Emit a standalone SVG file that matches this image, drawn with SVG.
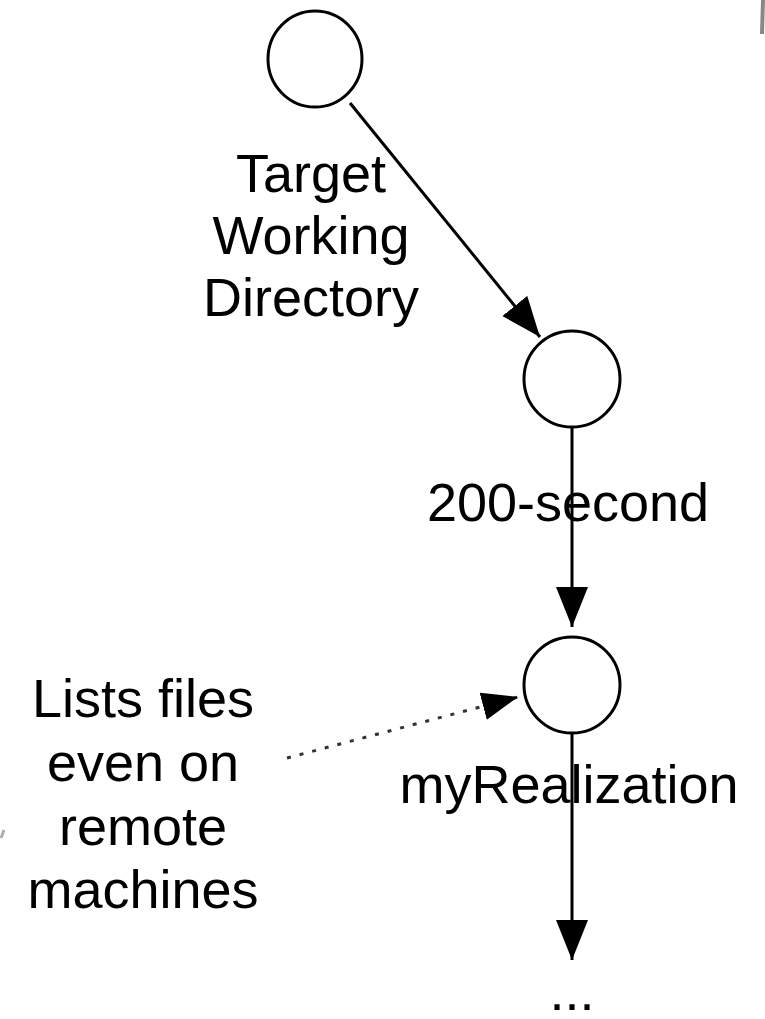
<svg xmlns="http://www.w3.org/2000/svg" width="765" height="1019" viewBox="0 0 765 1019">
<style>
.node{fill:#fff;stroke:#000;stroke-width:3}
.edge{fill:none;stroke:#000;stroke-width:3}
.dot{fill:none;stroke:#333;stroke-width:3;stroke-dasharray:4 9}
.lbl{font-family:"Liberation Sans",Arial,sans-serif;font-size:54px;fill:#000;text-anchor:middle}
</style>
<defs>
<marker id="ah" markerUnits="userSpaceOnUse" markerWidth="42" markerHeight="34" refX="40" refY="16" orient="auto">
<path d="M0,0 L40,16 L0,32 Z" fill="#000"/>
</marker>
<marker id="ah2" markerUnits="userSpaceOnUse" markerWidth="38" markerHeight="30" refX="36" refY="14" orient="auto">
<path d="M0,0 L36,14 L0,28 Z" fill="#000"/>
</marker>
</defs>
<g id="connectors">
<path class="edge" d="M350,103 L540,337" marker-end="url(#ah)"/>
<path class="edge" d="M572,428 L572,627" marker-end="url(#ah)"/>
<path class="dot" d="M287,758 L518,697" marker-end="url(#ah2)"/>
<path class="edge" d="M572,733 L572,960" marker-end="url(#ah)"/>
</g>
<g id="node1"><ellipse class="node" cx="315" cy="59" rx="47" ry="48"/></g>
<g id="node2"><ellipse class="node" cx="572" cy="379" rx="48" ry="48"/></g>
<g id="node3"><ellipse class="node" cx="572" cy="685" rx="48" ry="48"/></g>
<g id="labels">
<text class="lbl" x="311" y="192">Target</text>
<text class="lbl" x="311" y="254">Working</text>
<text class="lbl" x="311" y="316">Directory</text>
<text class="lbl" x="568" y="521">200-second</text>
<text class="lbl" x="569" y="803">myRealization</text>
<text class="lbl" x="143" y="717">Lists files</text>
<text class="lbl" x="143" y="781">even on</text>
<text class="lbl" x="143" y="845">remote</text>
<text class="lbl" x="143" y="908">machines</text>
<text class="lbl" x="572" y="1010">...</text>
</g>
<g id="fragments">
<path d="M763,0 L762,34" stroke="#555" stroke-width="4" fill="none" opacity="0.7"/>
<path d="M1,838 L4,830" stroke="#777" stroke-width="3" fill="none" opacity="0.6"/>
</g>
</svg>
